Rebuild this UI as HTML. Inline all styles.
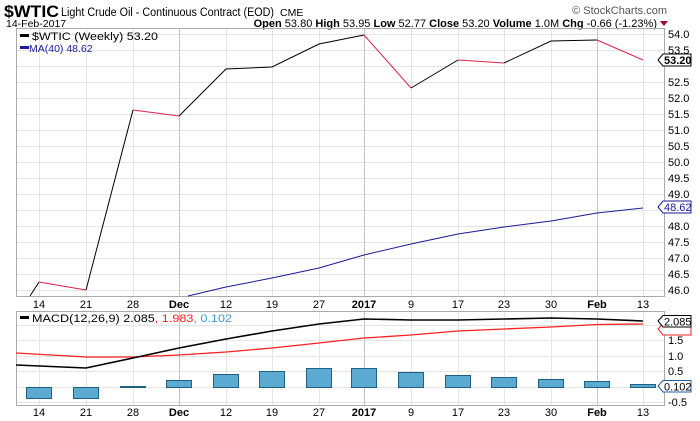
<!DOCTYPE html>
<html><head><meta charset="utf-8"><style>
html,body{margin:0;padding:0;background:#fff;}
svg{display:block;font-family:"Liberation Sans",Arial,sans-serif;}
</style></head><body>
<svg width="700" height="421" viewBox="0 0 700 421" xmlns="http://www.w3.org/2000/svg">
<rect width="700" height="421" fill="#fff"/>
<text x="4" y="17" font-size="17" font-weight="bold" fill="#000" textLength="55" lengthAdjust="spacingAndGlyphs">$WTIC</text>
<text x="61" y="16" font-size="11.5" fill="#000" textLength="213" lengthAdjust="spacingAndGlyphs">Light Crude Oil - Continuous Contract (EOD)</text>
<text x="280" y="16" font-size="10.5" fill="#000">CME</text>
<text x="667" y="14" font-size="11" fill="#555" text-anchor="end">© StockCharts.com</text>
<text x="6" y="27" font-size="10.5" fill="#000">14-Feb-2017</text>
<text x="657" y="27" font-size="11" fill="#000" text-anchor="end"><tspan font-weight="bold">Open</tspan> 53.80 <tspan font-weight="bold">High</tspan> 53.95 <tspan font-weight="bold">Low</tspan> 52.77 <tspan font-weight="bold">Close</tspan> 53.20 <tspan font-weight="bold">Volume</tspan> 1.0M <tspan font-weight="bold">Chg</tspan> -0.66 (-1.23%)</text>
<polygon points="660,21 668,21 664,26" fill="#a0003c"/>

<g stroke="#e4e4e4" stroke-width="1">
<line x1="16" x2="664" y1="34.5" y2="34.5"/><line x1="16" x2="664" y1="50.5" y2="50.5"/><line x1="16" x2="664" y1="66.5" y2="66.5"/><line x1="16" x2="664" y1="82.5" y2="82.5"/><line x1="16" x2="664" y1="98.5" y2="98.5"/><line x1="16" x2="664" y1="114.5" y2="114.5"/><line x1="16" x2="664" y1="130.5" y2="130.5"/><line x1="16" x2="664" y1="146.5" y2="146.5"/><line x1="16" x2="664" y1="162.5" y2="162.5"/><line x1="16" x2="664" y1="178.5" y2="178.5"/><line x1="16" x2="664" y1="194.5" y2="194.5"/><line x1="16" x2="664" y1="210.5" y2="210.5"/><line x1="16" x2="664" y1="226.5" y2="226.5"/><line x1="16" x2="664" y1="242.5" y2="242.5"/><line x1="16" x2="664" y1="258.5" y2="258.5"/><line x1="16" x2="664" y1="274.5" y2="274.5"/><line x1="16" x2="664" y1="290.5" y2="290.5"/>
</g>
<g stroke="#e4e4e4">
<line x1="39.5" x2="39.5" y1="29" y2="296"/><line x1="86.5" x2="86.5" y1="29" y2="296"/><line x1="133.5" x2="133.5" y1="29" y2="296"/><line x1="226.5" x2="226.5" y1="29" y2="296"/><line x1="272.5" x2="272.5" y1="29" y2="296"/><line x1="319.5" x2="319.5" y1="29" y2="296"/><line x1="411.5" x2="411.5" y1="29" y2="296"/><line x1="458.5" x2="458.5" y1="29" y2="296"/><line x1="504.5" x2="504.5" y1="29" y2="296"/><line x1="551.5" x2="551.5" y1="29" y2="296"/><line x1="643.5" x2="643.5" y1="29" y2="296"/>
</g>
<g stroke="#c4c4c4">
<line x1="179.5" x2="179.5" y1="29" y2="296"/><line x1="364.5" x2="364.5" y1="29" y2="296"/><line x1="597.5" x2="597.5" y1="29" y2="296"/>
</g>
<rect x="16.5" y="28.5" width="648" height="268" fill="none" stroke="#aaa"/>

<polyline fill="none" stroke="#000" stroke-width="1" points="30,296 39,282"/>
<polyline fill="none" stroke="#e0204a" points="39,282 86,290"/>
<polyline fill="none" stroke="#000" points="86,290 133,110"/>
<polyline fill="none" stroke="#e0204a" points="133,110 179,116"/>
<polyline fill="none" stroke="#000" points="179,116 226,69 272,67 319,44 364,35"/>
<polyline fill="none" stroke="#e0204a" points="364,35 411,88"/>
<polyline fill="none" stroke="#000" points="411,88 458,60"/>
<polyline fill="none" stroke="#e0204a" points="458,60 504,63"/>
<polyline fill="none" stroke="#000" points="504,63 551,41 597,40"/>
<polyline fill="none" stroke="#e0204a" points="597,40 643,60"/>
<polyline fill="none" stroke="#1a1a9a" points="188,296 226,287 272,278 319,268 364,255 411,244 458,234 504,227 551,221 597,213 643,208"/>

<rect x="20" y="34" width="9" height="3" fill="#000"/>
<text x="32" y="40" font-size="11" fill="#000" textLength="126" lengthAdjust="spacingAndGlyphs">$WTIC (Weekly) 53.20</text>
<rect x="20" y="46" width="9" height="3" fill="#1a1a9a"/>
<text x="29" y="52" font-size="10.5" fill="#1a1a9a">MA(40) 48.62</text>

<g font-size="11" fill="#000">
<text x="668" y="38">54.0</text><text x="668" y="54">53.5</text><text x="668" y="86">52.5</text><text x="668" y="102">52.0</text><text x="668" y="118">51.5</text><text x="668" y="134">51.0</text><text x="668" y="150">50.5</text><text x="668" y="166">50.0</text><text x="668" y="182">49.5</text><text x="668" y="198">49.0</text><text x="668" y="230">48.0</text><text x="668" y="246">47.5</text><text x="668" y="262">47.0</text><text x="668" y="278">46.5</text><text x="668" y="294">46.0</text>
</g>
<polygon points="658,60 663,54 691,54 691,66 663,66" fill="#fff" stroke="#000"/>
<text x="664" y="64" font-size="11" font-weight="bold" fill="#000">53.20</text>
<polygon points="658,207 663,201 691,201 691,213 663,213" fill="#fff" stroke="#1a1a9a"/>
<text x="664" y="211" font-size="11" fill="#1a1a9a">48.62</text>

<g font-size="11" fill="#000" text-anchor="middle">
<text x="39" y="308">14</text><text x="86" y="308">21</text><text x="133" y="308">28</text><text x="179" y="308" font-weight="bold">Dec</text><text x="226" y="308">12</text><text x="272" y="308">19</text><text x="319" y="308">27</text><text x="364" y="308" font-weight="bold">2017</text><text x="411" y="308">9</text><text x="458" y="308">17</text><text x="504" y="308">23</text><text x="551" y="308">30</text><text x="597" y="308" font-weight="bold">Feb</text><text x="643" y="308">13</text>
</g>

<g stroke="#e4e4e4">
<line x1="16" x2="664" y1="325.5" y2="325.5"/><line x1="16" x2="664" y1="340.5" y2="340.5"/><line x1="16" x2="664" y1="356.5" y2="356.5"/><line x1="16" x2="664" y1="371.5" y2="371.5"/><line x1="16" x2="664" y1="387.5" y2="387.5"/><line x1="16" x2="664" y1="402.5" y2="402.5"/>
<line x1="39.5" x2="39.5" y1="311" y2="405"/><line x1="86.5" x2="86.5" y1="311" y2="405"/><line x1="133.5" x2="133.5" y1="311" y2="405"/><line x1="226.5" x2="226.5" y1="311" y2="405"/><line x1="272.5" x2="272.5" y1="311" y2="405"/><line x1="319.5" x2="319.5" y1="311" y2="405"/><line x1="411.5" x2="411.5" y1="311" y2="405"/><line x1="458.5" x2="458.5" y1="311" y2="405"/><line x1="504.5" x2="504.5" y1="311" y2="405"/><line x1="551.5" x2="551.5" y1="311" y2="405"/><line x1="643.5" x2="643.5" y1="311" y2="405"/>
</g>
<g stroke="#c4c4c4"><line x1="179.5" x2="179.5" y1="311" y2="405"/><line x1="364.5" x2="364.5" y1="311" y2="405"/><line x1="597.5" x2="597.5" y1="311" y2="405"/></g>
<rect x="16.5" y="311.5" width="648" height="94" fill="none" stroke="#aaa"/>

<g fill="#5aaad2" stroke="#1f5f80" stroke-width="1">
<rect x="26.5" y="387.5" width="25" height="11"/>
<rect x="73.5" y="387.5" width="25" height="11"/>
<rect x="120.5" y="386.5" width="25" height="1"/>
<rect x="166.5" y="380.5" width="25" height="7"/>
<rect x="213.5" y="374.5" width="25" height="13"/>
<rect x="259.5" y="371.5" width="25" height="16"/>
<rect x="306.5" y="368.5" width="25" height="19"/>
<rect x="351.5" y="368.5" width="25" height="19"/>
<rect x="398.5" y="372.5" width="25" height="15"/>
<rect x="445.5" y="375.5" width="25" height="12"/>
<rect x="491.5" y="377.5" width="25" height="10"/>
<rect x="538.5" y="379.5" width="25" height="8"/>
<rect x="584.5" y="381.5" width="25" height="6"/>
<rect x="630.5" y="384.5" width="25" height="3"/>
</g>
<polyline fill="none" stroke="#ff2020" stroke-width="1.3" points="16,353 86,357 133,357 179,355 226,352 272,348 319,343 364,338 411,335 458,331 504,329 551,327 597,324.5 643,324"/>
<polyline fill="none" stroke="#000" stroke-width="1.6" points="16,365 86,368 133,358 179,348 226,339 272,331 319,324 364,319 411,320 458,320 504,319 551,318 597,319 643,321"/>

<rect x="20" y="316" width="9" height="3" fill="#000"/>
<text x="32" y="322" font-size="11" fill="#000" textLength="200" lengthAdjust="spacingAndGlyphs">MACD(12,26,9) 2.085<tspan fill="#ff2020">, 1.983</tspan><tspan fill="#3a9ad0">, 0.102</tspan></text>

<g font-size="11" fill="#000">
<text x="668" y="344">1.5</text><text x="668" y="360">1.0</text><text x="668" y="375">0.5</text><text x="668" y="406">-0.5</text>
</g>
<polygon points="658,329 663,323.5 691,323.5 691,335 663,335" fill="#fff" stroke="#ff2020"/>
<polygon points="658,321 663,315.5 691,315.5 691,327 663,327" fill="#fff" stroke="#000"/>
<text x="664" y="325.5" font-size="11" fill="#000">2.085</text>
<polygon points="658,386 663,380.5 691,380.5 691,392 663,392" fill="#fff" stroke="#1f5f9f"/>
<text x="664" y="390.5" font-size="11" fill="#000">0.102</text>

<g font-size="11" fill="#000" text-anchor="middle">
<text x="39" y="416">14</text><text x="86" y="416">21</text><text x="133" y="416">28</text><text x="179" y="416" font-weight="bold">Dec</text><text x="226" y="416">12</text><text x="272" y="416">19</text><text x="319" y="416">27</text><text x="364" y="416" font-weight="bold">2017</text><text x="411" y="416">9</text><text x="458" y="416">17</text><text x="504" y="416">23</text><text x="551" y="416">30</text><text x="597" y="416" font-weight="bold">Feb</text><text x="643" y="416">13</text>
</g>
</svg>
</body></html>
